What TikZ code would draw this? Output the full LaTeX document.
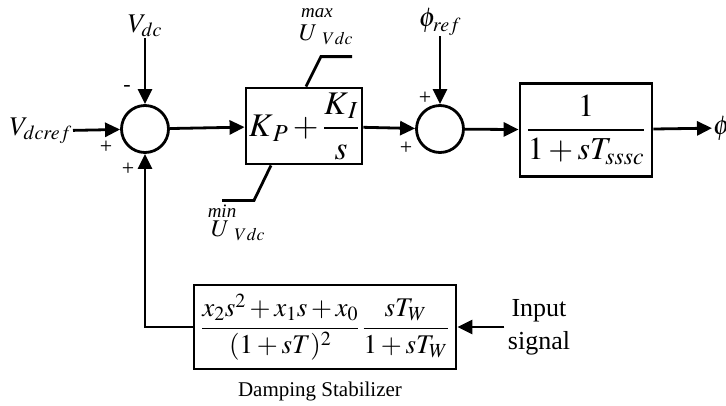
\documentclass[tikz,border=0pt]{standalone}
\usepackage{amsmath}
\usepackage{mathptmx}
\usepackage{fontspec}
\setmainfont{Liberation Serif}
\usetikzlibrary{arrows.meta}

\tikzset{
	blk/.style={draw, line width=2.8pt, inner sep=0pt},
	sumnode/.style={draw, circle, line width=2.8pt, minimum size=47pt, inner sep=0pt},
	sig/.style={line width=2.8pt, -{Triangle[length=15pt,width=14pt]}},
	wire/.style={line width=2.8pt},
	lbl/.style={inner sep=1pt, font=\fontsize{27}{30}\selectfont},
	sgn/.style={inner sep=0pt, font=\fontsize{22}{22}\selectfont},
	lim/.style={inner sep=0pt, font=\fontsize{19}{20}\selectfont\itshape},
	ulim/.style={inner sep=0pt, font=\fontsize{24}{24}\selectfont},
}

\begin{document}
\begin{tikzpicture}[x=1pt, y=-1pt]
		\useasboundingbox (0, 0) rectangle (726, 405);
		
		% blocks
		\node[sumnode] (sum1) at (145, 129) {};
		\node[sumnode] (sum2) at (440, 129) {};
		\node[blk, minimum width=116pt, minimum height=76pt, font=\fontsize{33}{36}\selectfont] (pi) at (304, 126) {$K_{\,P}+\dfrac{K_{\,I}}{s}$};
		\node[blk, minimum width=132pt, minimum height=93pt, font=\fontsize{32}{36}\selectfont] (plant) at (586, 130) {$\dfrac{1}{1+sT_{sssc}}$};
		\node[blk, minimum width=262pt, minimum height=84pt, font=\fontsize{27}{30}\selectfont] (stab) at (325, 327) {$\dfrac{x_2s^2+x_1s+x_0}{(1+sT)^2}\,\dfrac{sT_W}{1+sT_W}$};
		\node[font=\fontsize{21}{22}\selectfont] (stabname) at (320, 391) {Damping Stabilizer};
		
		% signals
		\node[lbl] (vdc) at (145, 26) {$V_{dc}$};
		\node[lbl, anchor=east] (vdcref) at (73, 131) {$V_{dcref}$};
		\node[lbl] (phiref) at (440, 22) {$\phi_{ref}$};
		\node[lbl, anchor=west] (phi) at (712, 128) {$\phi$};
		\node[align=center, font=\fontsize{26}{33}\selectfont] (inp) at (539, 327) {Input\\signal};
		
		\draw[sig] (vdc) -- (sum1);
		\draw[sig] (vdcref) -- (sum1);
		\draw[sig] (sum1) -- (pi);
		\draw[sig] (pi) -- (sum2);
		\draw[sig] (phiref) -- (sum2);
		\draw[sig] (sum2) -- (plant);
		\draw[sig] (plant) -- (phi);
		\draw[sig] (inp.west |- stab) -- (stab);
		\draw[sig] (stab.west) -| (sum1.south);
		
		% signs
		\node[sgn] at (127, 88) {-};
		\node[sgn] at (106, 147) {+};
		\node[sgn] at (128, 169) {+};
		\node[sgn] at (425, 98) {+};
		\node[sgn] at (406, 148) {+};
		
		% limits
		\draw[wire] ([xshift=2pt]pi.north) -- ++(15, -30) -- ++(31, 0);
		\draw[wire] ([xshift=-33pt]pi.south) -- ++(-17, 35) -- ++(-32, 0);
		\node[lim] (maxtxt) at (317, 13) {max};
		\node[ulim] (umax) at (326, 35) {$U_{\hspace{8pt}Vdc}$};
		\node[lim] (mintxt) at (222, 211) {min};
		\node[ulim] (umin) at (238, 231) {$U_{\hspace{8pt}Vdc}$};
	\end{tikzpicture}
\end{document}
